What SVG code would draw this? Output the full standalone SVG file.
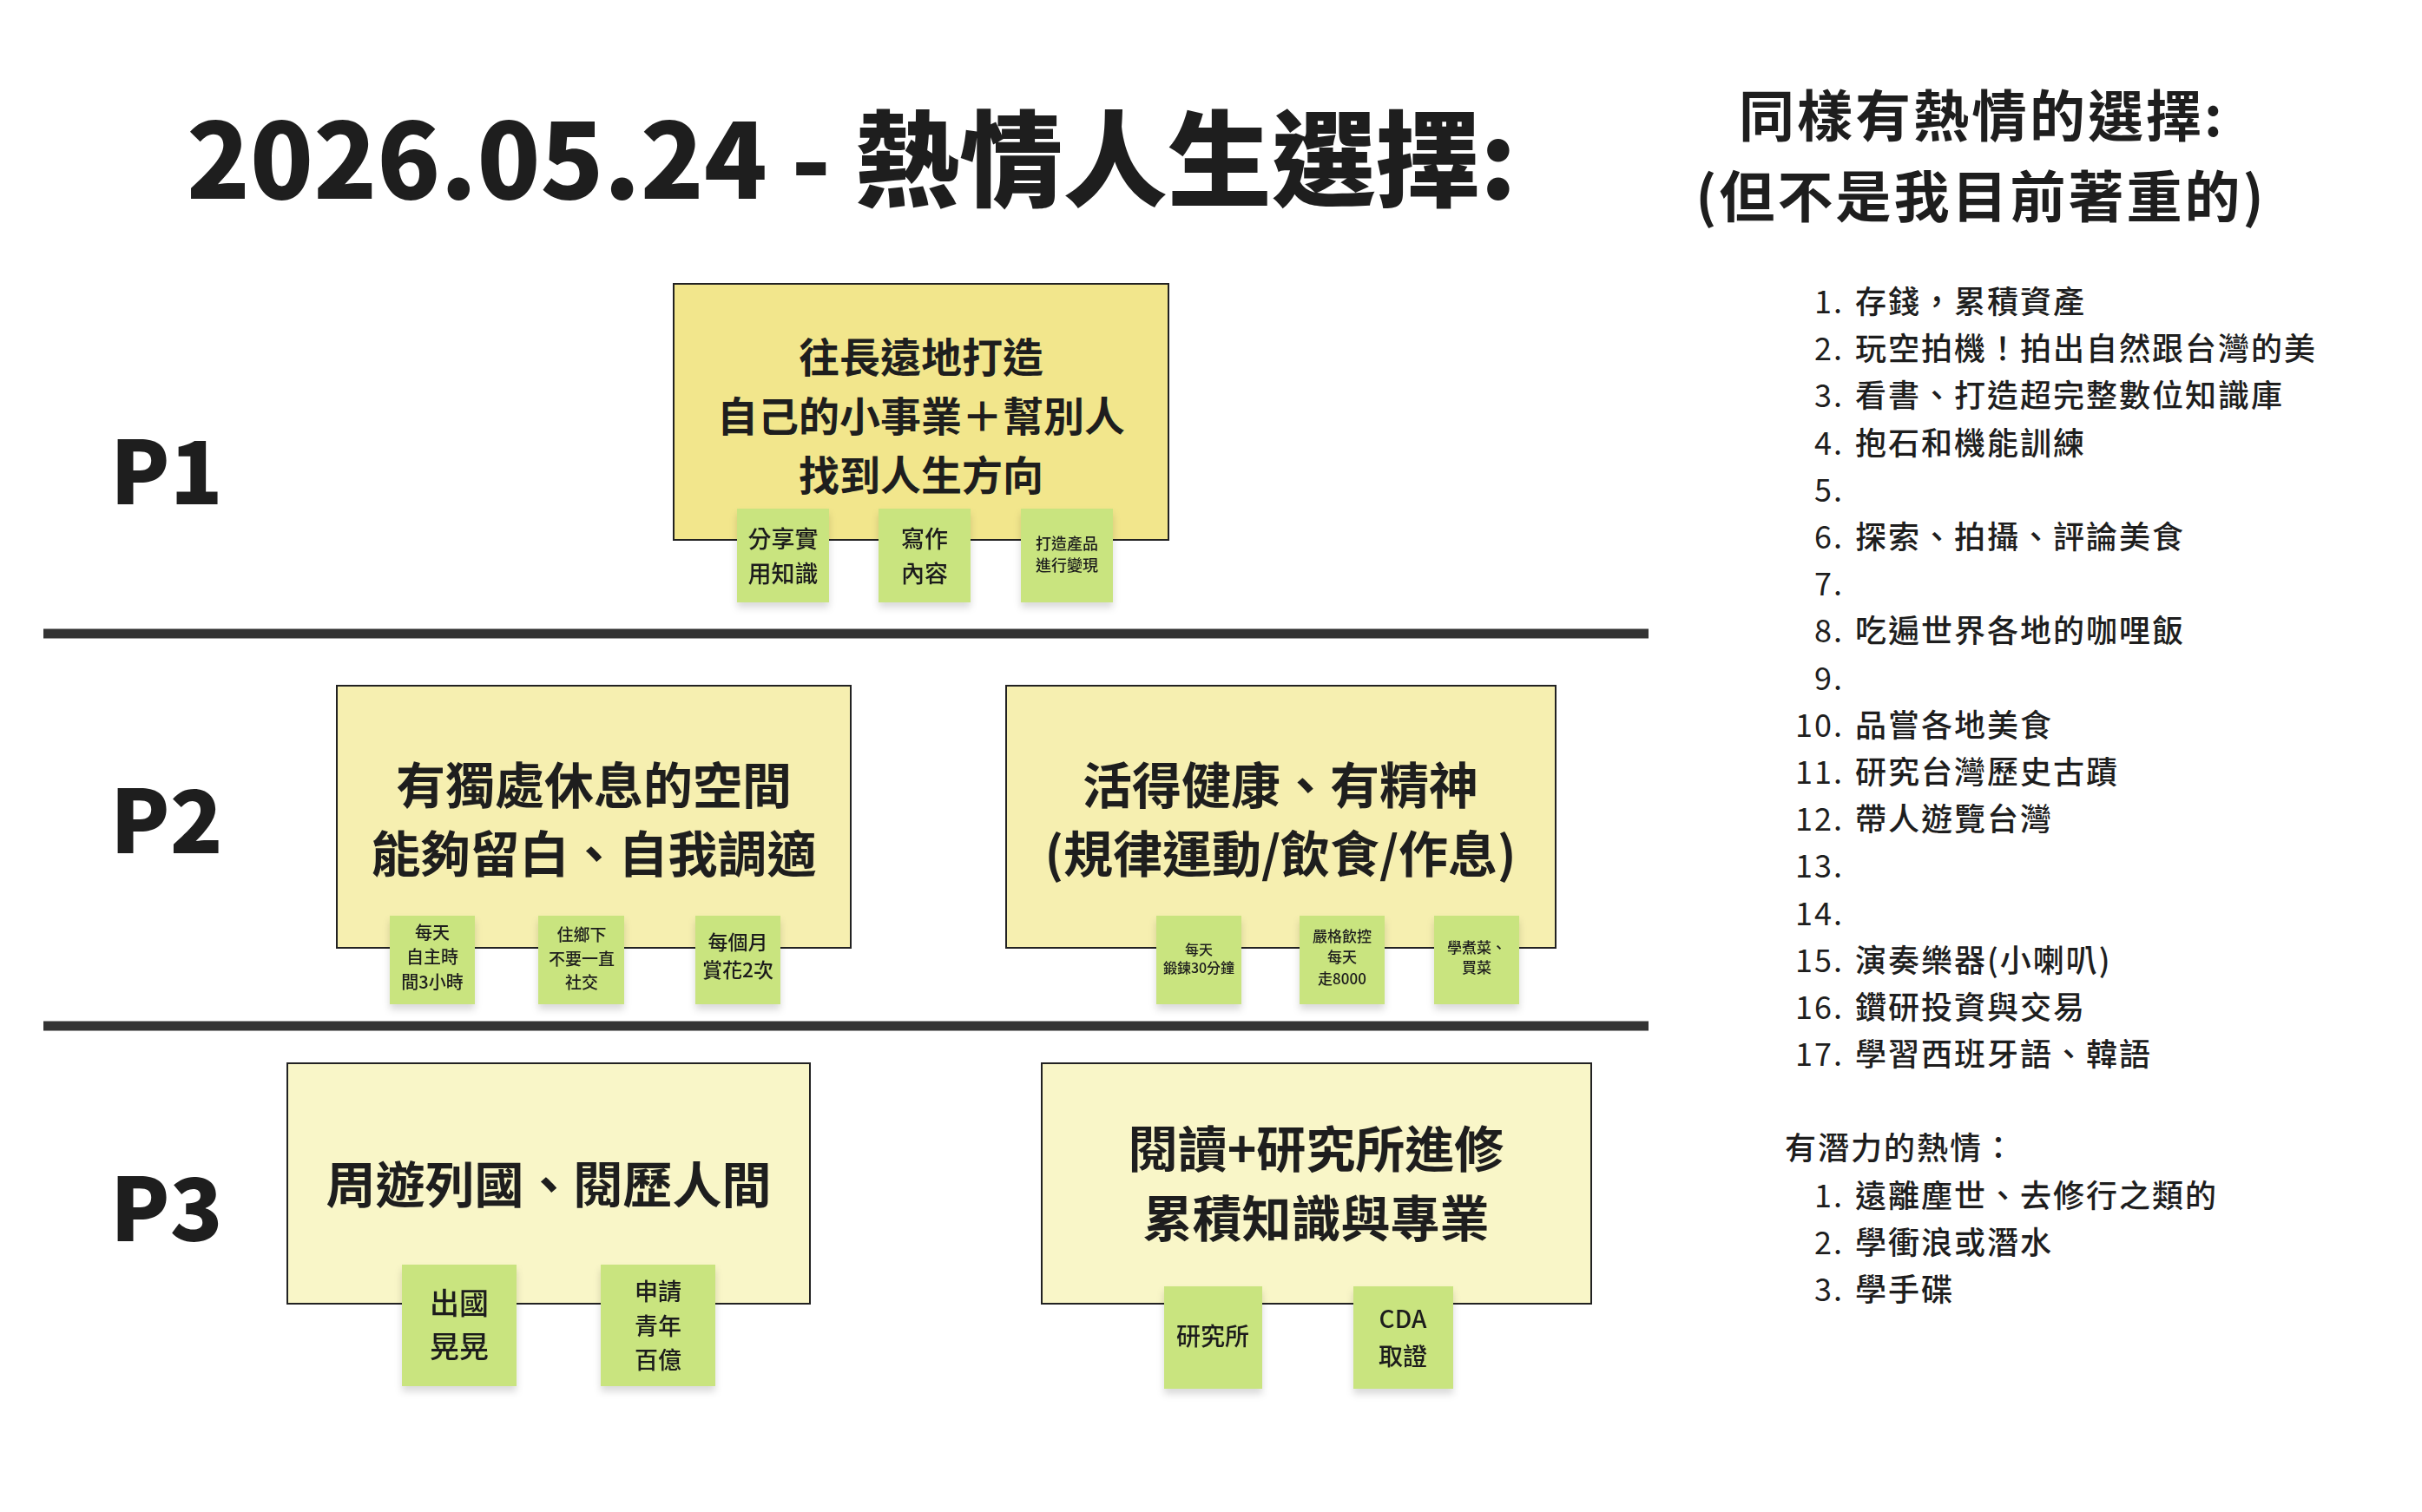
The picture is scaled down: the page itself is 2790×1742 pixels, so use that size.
<svg xmlns="http://www.w3.org/2000/svg" width="2790" height="1742" viewBox="0 0 2790 1742">
<style>
text{font-family:"Noto Sans CJK TC","Noto Sans",sans-serif;fill:#1e1e1e}
.b{font-weight:700}
.h{font-size:120px;font-weight:800}
.p{font-size:100px;font-weight:800}
.big{font-size:47px;font-weight:700;text-anchor:middle}
.mid{font-size:57px;font-weight:700;text-anchor:middle}
.card1{fill:#f2e68c;stroke:#222;stroke-width:2}
.card2{fill:#f6efb0;stroke:#222;stroke-width:2}
.card3{fill:#f9f6c8;stroke:#222;stroke-width:2}
.st{fill:#c9e47f}
.stxt{text-anchor:middle;font-weight:500}
.li{font-size:36px;font-weight:500;letter-spacing:2px}
.num{font-size:36px;text-anchor:end;letter-spacing:2px}
.div{stroke:#333;stroke-width:11}
</style>
<defs>
<filter id="sh" x="-20%" y="-20%" width="140%" height="150%"><feDropShadow dx="0" dy="6" stdDeviation="4" flood-color="#000" flood-opacity="0.15"/></filter>
</defs>
<rect width="2790" height="1742" fill="#fff"/>
<text class="h" x="215" y="229">2026.05.24 - 熱情人生選擇:</text>
<text class="p" x="127" y="581">P1</text>
<text class="p" x="127" y="983">P2</text>
<text class="p" x="127" y="1430">P3</text>
<g id="connectors">
<line class="div" x1="50" y1="730" x2="1899" y2="730"/>
<line class="div" x1="50" y1="1182" x2="1899" y2="1182"/>
</g>
<g id="p1">
<rect class="card1" x="776" y="327" width="570" height="295"/>
<text class="big" x="1061" y="429">往長遠地打造</text>
<text class="big" x="1061" y="497">自己的小事業＋幫別人</text>
<text class="big" x="1061" y="565">找到人生方向</text>
</g>
<g id="s1" filter="url(#sh)"><rect class="st" x="849" y="586" width="106" height="108"/>
<text class="stxt" x="902" y="631" font-size="27">分享實</text><text class="stxt" x="902" y="671" font-size="27">用知識</text></g>
<g id="s2" filter="url(#sh)"><rect class="st" x="1012" y="586" width="106" height="108"/>
<text class="stxt" x="1065" y="631" font-size="27">寫作</text><text class="stxt" x="1065" y="671" font-size="27">內容</text></g>
<g id="s3" filter="url(#sh)"><rect class="st" x="1176" y="586" width="106" height="108"/>
<text class="stxt" x="1229" y="633" font-size="18">打造產品</text><text class="stxt" x="1229" y="658" font-size="18">進行變現</text></g>
<g id="p2a">
<rect class="card2" x="388" y="790" width="592" height="302"/>
<text class="mid" x="684" y="926">有獨處休息的空間</text>
<text class="mid" x="684" y="1005">能夠留白、自我調適</text>
</g>
<g id="s4" filter="url(#sh)"><rect class="st" x="449" y="1055" width="98" height="102"/>
<text class="stxt" x="498" y="1082" font-size="20">每天</text><text class="stxt" x="498" y="1110" font-size="20">自主時</text><text class="stxt" x="498" y="1139" font-size="20">間3小時</text></g>
<g id="s5" filter="url(#sh)"><rect class="st" x="620" y="1055" width="99" height="102"/>
<text class="stxt" x="670" y="1084" font-size="19">住鄉下</text><text class="stxt" x="670" y="1112" font-size="19">不要一直</text><text class="stxt" x="670" y="1139" font-size="19">社交</text></g>
<g id="s6" filter="url(#sh)"><rect class="st" x="801" y="1055" width="98" height="102"/>
<text class="stxt" x="850" y="1094" font-size="23">每個月</text><text class="stxt" x="850" y="1126" font-size="23">賞花2次</text></g>
<g id="p2b">
<rect class="card2" x="1159" y="790" width="633" height="302"/>
<text class="mid" x="1475" y="926">活得健康、有精神</text>
<text class="mid" x="1475" y="1005">(規律運動/飲食/作息)</text>
</g>
<g id="s7" filter="url(#sh)"><rect class="st" x="1332" y="1055" width="98" height="102"/>
<text class="stxt" x="1381" y="1100" font-size="16">每天</text><text class="stxt" x="1381" y="1121" font-size="16">鍛鍊30分鐘</text></g>
<g id="s8" filter="url(#sh)"><rect class="st" x="1497" y="1055" width="98" height="102"/>
<text class="stxt" x="1546" y="1085" font-size="17">嚴格飲控</text><text class="stxt" x="1546" y="1109" font-size="17">每天</text><text class="stxt" x="1546" y="1134" font-size="17">走8000</text></g>
<g id="s9" filter="url(#sh)"><rect class="st" x="1652" y="1055" width="98" height="102"/>
<text class="stxt" x="1701" y="1098" font-size="17">學煮菜、</text><text class="stxt" x="1701" y="1121" font-size="17">買菜</text></g>
<g id="p3a">
<rect class="card3" x="331" y="1225" width="602" height="277"/>
<text class="mid" x="632" y="1386">周遊列國、閱歷人間</text>
</g>
<g id="s10" filter="url(#sh)"><rect class="st" x="463" y="1457" width="132" height="140"/>
<text class="stxt" x="529" y="1514" font-size="34">出國</text><text class="stxt" x="529" y="1564" font-size="34">晃晃</text></g>
<g id="s11" filter="url(#sh)"><rect class="st" x="692" y="1457" width="132" height="140"/>
<text class="stxt" x="758" y="1498" font-size="27">申請</text><text class="stxt" x="758" y="1538" font-size="27">青年</text><text class="stxt" x="758" y="1577" font-size="27">百億</text></g>
<g id="p3b">
<rect class="card3" x="1200" y="1225" width="633" height="277"/>
<text class="mid" x="1516" y="1345">閱讀+研究所進修</text>
<text class="mid" x="1516" y="1425">累積知識與專業</text>
</g>
<g id="s12" filter="url(#sh)"><rect class="st" x="1341" y="1482" width="113" height="118"/>
<text class="stxt b" x="1397" y="1550" font-size="28">研究所</text></g>
<g id="s13" filter="url(#sh)"><rect class="st" x="1559" y="1482" width="115" height="118"/>
<text class="stxt b" x="1616" y="1530" font-size="28">CDA</text><text class="stxt" x="1616" y="1573" font-size="28">取證</text></g>
<g id="side">
<text class="b" x="2283" y="157" font-size="64" text-anchor="middle" letter-spacing="3">同樣有熱情的選擇:</text>
<text class="b" x="2282" y="250" font-size="64" text-anchor="middle" letter-spacing="3">(但不是我目前著重的)</text>
<text class="num" x="2124" y="361">1.</text><text class="li" x="2137" y="361">存錢，累積資產</text>
<text class="num" x="2124" y="415">2.</text><text class="li" x="2137" y="415">玩空拍機！拍出自然跟台灣的美</text>
<text class="num" x="2124" y="469">3.</text><text class="li" x="2137" y="469">看書、打造超完整數位知識庫</text>
<text class="num" x="2124" y="524">4.</text><text class="li" x="2137" y="524">抱石和機能訓練</text>
<text class="num" x="2124" y="578">5.</text>
<text class="num" x="2124" y="632">6.</text><text class="li" x="2137" y="632">探索、拍攝、評論美食</text>
<text class="num" x="2124" y="686">7.</text>
<text class="num" x="2124" y="740">8.</text><text class="li" x="2137" y="740">吃遍世界各地的咖哩飯</text>
<text class="num" x="2124" y="795">9.</text>
<text class="num" x="2124" y="849">10.</text><text class="li" x="2137" y="849">品嘗各地美食</text>
<text class="num" x="2124" y="903">11.</text><text class="li" x="2137" y="903">研究台灣歷史古蹟</text>
<text class="num" x="2124" y="957">12.</text><text class="li" x="2137" y="957">帶人遊覽台灣</text>
<text class="num" x="2124" y="1011">13.</text>
<text class="num" x="2124" y="1066">14.</text>
<text class="num" x="2124" y="1120">15.</text><text class="li" x="2137" y="1120">演奏樂器(小喇叭)</text>
<text class="num" x="2124" y="1174">16.</text><text class="li" x="2137" y="1174">鑽研投資與交易</text>
<text class="num" x="2124" y="1228">17.</text><text class="li" x="2137" y="1228">學習西班牙語、韓語</text>
<text class="li" x="2056" y="1336">有潛力的熱情：</text>
<text class="num" x="2124" y="1391">1.</text><text class="li" x="2137" y="1391">遠離塵世、去修行之類的</text>
<text class="num" x="2124" y="1445">2.</text><text class="li" x="2137" y="1445">學衝浪或潛水</text>
<text class="num" x="2124" y="1499">3.</text><text class="li" x="2137" y="1499">學手碟</text>
</g>
</svg>
